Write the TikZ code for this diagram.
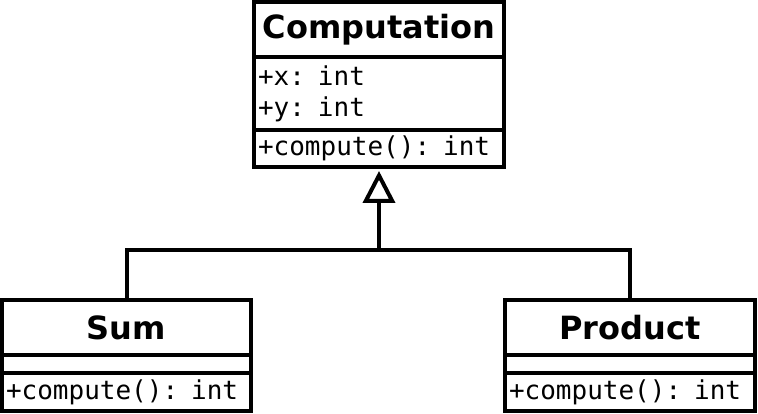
\documentclass[tikz,border=0pt]{standalone}
\usepackage{fontspec}
\setmainfont{DejaVu Sans}
\setmonofont{DejaVu Sans Mono}
\usetikzlibrary{positioning,arrows.meta}
\tikzset{
    CT/.style ={rectangle, draw, line width=4pt, outer sep=0pt, minimum width=#1, minimum height=55pt, font=\fontsize{32}{37}\selectfont\bfseries},
    CP/.style ={rectangle, draw, line width=4pt, outer sep=0pt, inner xsep=4pt, inner ysep=2pt, text width=#1, align=left, font=\fontsize{26}{31}\selectfont\ttfamily},
    INH/.style={line width=4pt, shorten >=4pt, -{Triangle[open, length=32pt, width=32pt]}},
    LK/.style ={line width=4pt}
}

\begin{document}
\begin{tikzpicture}[x=1pt,y=1pt]
        \useasboundingbox (0,0) rectangle (758,414);
        % base class
        \node[CT=250pt] (comp) at (379,384.5) {Computation};
        \node[CP=242pt, minimum height=73pt, below=0pt of comp] (compattr) {+x: int\\+y: int};
        \node[CP=242pt, minimum height=37pt, below=0pt of compattr] (compmeth) {+compute(): int};
        % subclasses
        \node[CT=249pt] (sum) at (126.5,86.5) {Sum};
        \node[CP=241pt, minimum height=18pt, below=0pt of sum] (sumattr) {};
        \node[CP=241pt, minimum height=38pt, below=0pt of sumattr] (summeth) {+compute(): int};
        \node[CT=250pt] (prod) at (630,86.5) {Product};
        \node[CP=242pt, minimum height=18pt, below=0pt of prod] (prodattr) {};
        \node[CP=242pt, minimum height=38pt, below=0pt of prodattr] (prodmeth) {+compute(): int};
        % inheritance
        \coordinate (fork) at (379,164);
        \draw[LK] (sum.north) |- (fork) -| (prod.north);
        \draw[INH] (fork) -- (compmeth.south);
    \end{tikzpicture}
\end{document}
